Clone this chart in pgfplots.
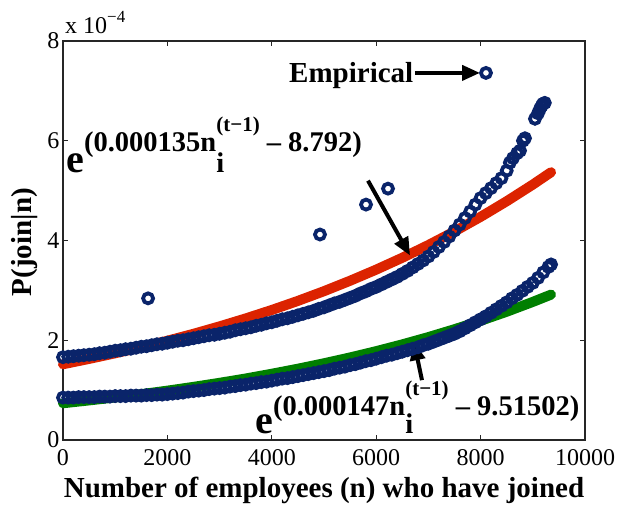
\documentclass[border=0pt]{standalone}
\usepackage{pgfplots}
\pgfplotsset{compat=1.18}
\usepackage{fontspec}
\setmainfont{Liberation Serif}
\usetikzlibrary{arrows.meta}
\definecolor{empblue}{RGB}{10,36,106}
\definecolor{fitred}{RGB}{220,35,0}
\definecolor{fitgreen}{RGB}{0,127,0}
\newcommand{\sfont}[1]{\fontsize{#1}{#1}\selectfont}
\begin{document}
\begin{tikzpicture}
\begin{axis}[
  scale only axis, width=522pt, height=399pt,
  xmin=0, xmax=10000, ymin=0, ymax=8,
  xtick={0,2000,4000,6000,8000,10000}, ytick={0,2,4,6,8},
  scaled x ticks=false,
  x tick label style={/pgf/number format/1000 sep={}, yshift=-6pt},
  /pgf/number format/assume math mode=true,
  tick label style={font=\sfont{24}},
  tick align=inside, major tick length=5pt,
  axis line style={line width=1.2pt, black!85},
  every tick/.style={black!85, line width=1pt},
  clip=false,
]
% upper empirical
\addplot[only marks, mark=o, mark size=5pt, line width=3.8pt, empblue] coordinates {
(0,1.66)(100,1.67)(200,1.68)(300,1.69)(400,1.70)(500,1.71)(600,1.72)(700,1.74)(800,1.75)(900,1.77)
(1000,1.79)(1100,1.80)(1200,1.82)(1300,1.83)(1400,1.85)(1500,1.87)(1600,1.88)(1700,1.90)(1800,1.92)(1900,1.93)
(2000,1.95)(2100,1.97)(2200,1.99)(2300,2.00)(2400,2.02)(2500,2.04)(2600,2.06)(2700,2.08)(2800,2.10)(2900,2.11)
(3000,2.13)(3100,2.15)(3200,2.17)(3300,2.20)(3400,2.22)(3500,2.24)(3600,2.26)(3700,2.29)(3800,2.31)(3900,2.34)
(4000,2.36)(4100,2.39)(4200,2.42)(4300,2.44)(4400,2.47)(4500,2.50)(4600,2.53)(4700,2.56)(4800,2.59)(4900,2.63)
(5000,2.66)(5100,2.70)(5200,2.74)(5300,2.77)(5400,2.81)(5500,2.85)(5600,2.89)(5700,2.94)(5800,2.98)(5900,3.03)
(6000,3.07)(6100,3.12)(6200,3.17)(6300,3.22)(6400,3.27)(6500,3.33)(6600,3.39)(6700,3.46)(6800,3.53)(6900,3.60)
(7000,3.68)(7100,3.77)(7200,3.87)(7300,3.97)(7400,4.08)(7500,4.20)(7600,4.32)(7700,4.45)(7800,4.58)(7900,4.72)
(8000,4.85)(8100,4.95)(8200,5.05)(8300,5.15)(8400,5.25)(8500,5.40)(8560,5.56)(8620,5.65)(8700,5.75)(8755,5.80)
(8812,6.00)(8850,6.05)(9042,6.44)(9100,6.55)(9138,6.64)(9170,6.70)(9195,6.74)(9230,6.76)
(1630,2.84)(4923,4.12)(5805,4.72)(6226,5.04)(8103,7.36)
};
% lower empirical
\addplot[only marks, mark=o, mark size=5pt, line width=3.8pt, empblue] coordinates {
(0,0.85)(100,0.85)(200,0.85)(300,0.86)(400,0.86)(500,0.86)(600,0.86)(700,0.87)(800,0.87)(900,0.87)
(1000,0.88)(1100,0.88)(1200,0.88)(1300,0.89)(1400,0.89)(1500,0.89)(1600,0.90)(1700,0.90)(1800,0.91)(1900,0.91)
(2000,0.92)(2100,0.93)(2200,0.94)(2300,0.95)(2400,0.97)(2500,0.98)(2600,0.99)(2700,1.00)(2800,1.02)(2900,1.03)
(3000,1.04)(3100,1.05)(3200,1.07)(3300,1.08)(3400,1.10)(3500,1.11)(3600,1.13)(3700,1.14)(3800,1.16)(3900,1.17)
(4000,1.19)(4100,1.21)(4200,1.23)(4300,1.24)(4400,1.26)(4500,1.28)(4600,1.30)(4700,1.32)(4800,1.34)(4900,1.36)
(5000,1.38)(5100,1.40)(5200,1.43)(5300,1.45)(5400,1.47)(5500,1.50)(5600,1.52)(5700,1.55)(5800,1.58)(5900,1.60)
(6000,1.63)(6100,1.66)(6200,1.69)(6300,1.71)(6400,1.74)(6500,1.77)(6600,1.80)(6700,1.83)(6800,1.86)(6900,1.90)
(7000,1.93)(7100,1.97)(7200,2.01)(7300,2.05)(7400,2.09)(7500,2.13)(7600,2.18)(7700,2.24)(7800,2.30)(7900,2.36)
(8000,2.42)(8100,2.48)(8200,2.55)(8300,2.62)(8400,2.69)(8500,2.76)(8600,2.84)(8700,2.91)(8800,2.99)(8900,3.07)
(9000,3.15)(9100,3.25)(9200,3.36)(9300,3.47)(9350,3.52)
};
% red fit
\addplot[fitred, line width=10pt, line cap=round, line join=round] coordinates {
(0,1.519)(500,1.626)(1000,1.739)(1500,1.860)(2000,1.990)(2500,2.129)(3000,2.278)(3500,2.437)
(4000,2.607)(4500,2.789)(5000,2.984)(5500,3.193)(6000,3.416)(6500,3.654)(7000,3.909)(7500,4.182)
(8000,4.474)(8500,4.787)(9000,5.121)(9350,5.369)
};
% green fit
\addplot[fitgreen, line width=10pt, line cap=round, line join=round] coordinates {
(0,0.737)(500,0.794)(1000,0.854)(1500,0.919)(2000,0.989)(2500,1.065)(3000,1.146)(3500,1.233)
(4000,1.328)(4500,1.429)(5000,1.538)(5500,1.655)(6000,1.781)(6500,1.917)(7000,2.063)(7500,2.221)
(8000,2.390)(8500,2.572)(9000,2.769)(9350,2.915)
};
% annotations
\node[anchor=base west, inner sep=0pt] at (axis cs:4330,7.16) {\sfont{29}\bfseries Empirical};
\draw[line width=4pt, -{Triangle[length=18pt,width=15pt]}] (axis cs:6743,7.36) -- (axis cs:7989,7.36);
\node[anchor=base west, inner sep=0pt] at (axis cs:60,5.36) {{\sfont{40}\bfseries e}\raisebox{21pt}{\sfont{28.5}\bfseries (0.000135n\rlap{\raisebox{-21pt}{i}}\raisebox{20pt}{\sfont{21}(t−1)}\ –\ 8.792)}};
\draw[line width=4pt, -{Triangle[length=18pt,width=15pt]}] (axis cs:5843,5.2) -- (axis cs:6648,3.7);
\node[anchor=base west, inner sep=0pt] at (axis cs:3680,0.14) {{\sfont{40}\bfseries e}\raisebox{18pt}{\sfont{28.5}\bfseries (0.000147n\rlap{\raisebox{-18pt}{i}}\raisebox{20pt}{\sfont{21}(t−1)}\ –\ 9.51502)}};
\draw[line width=4pt, -{Triangle[length=18pt,width=15pt]}] (axis cs:6877,1.2) -- (axis cs:6724,1.96);
\coordinate (ll) at (rel axis cs:0,0);
\node[anchor=base, inner sep=0pt] at ([yshift=-58pt]rel axis cs:0.5,0) {\sfont{29}\bfseries Number of employees (n) who have joined};
\node[rotate=90, anchor=center, inner sep=0pt] at ([xshift=-38pt]rel axis cs:0,0.496) {\sfont{29}\bfseries P(join|n)};
\node[anchor=base west, inner sep=0pt] at ([xshift=2pt,yshift=7pt]rel axis cs:0,1) {\sfont{24}x 10\raisebox{11pt}{\sfont{17}−4}};
\end{axis}
\pgfresetboundingbox
\path[use as bounding box] ([shift={(-63pt,-66pt)}]ll) rectangle ([shift={(556pt,440pt)}]ll);
\end{tikzpicture}
\end{document}
